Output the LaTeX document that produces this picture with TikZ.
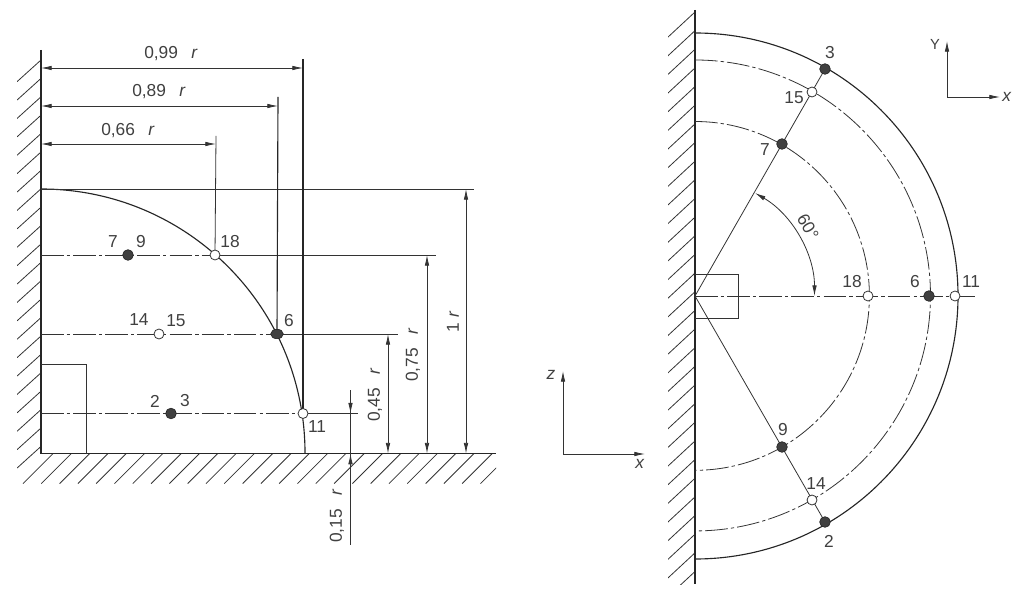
\documentclass[tikz,border=0pt]{standalone}
\usepackage{fontspec}
\setmainfont{Liberation Sans}
\usetikzlibrary{arrows.meta,shapes.geometric}
\definecolor{inkline}{gray}{0.2}

\begin{document}
\begin{tikzpicture}[x=0.75pt,y=-0.75pt,>={Latex[length=8pt,width=3.4pt]},
every node/.style={inner sep=0,text=black!75,font=\fontsize{13}{13}\selectfont},
thinline/.style={draw=inkline,line width=0.6pt},
heavyline/.style={draw=black!85,line width=0.85pt},
hatchline/.style={draw=inkline,line width=0.6pt},
centerline/.style={draw=inkline,line width=0.6pt,dash pattern=on 17pt off 2.3pt on 2.5pt off 2.3pt},
fullpt/.style={circle,fill=black!75,draw=black!85,line width=0.5pt,minimum size=8pt},
openpt/.style={circle,fill=white,draw=inkline,line width=0.6pt,minimum size=7.5pt}]

\useasboundingbox (0,0) rectangle (1024,602);

% left view
\coordinate (wallL1) at (41,50);
\coordinate (cornerL) at (41,453.6);
\coordinate (floorR) at (496,453.6);
\coordinate (p79) at (128,255);
\coordinate (p1415) at (159,334);
\coordinate (p23) at (171,413.5);
\coordinate (p18) at (215,255);
\coordinate (p6) at (277,334);
\coordinate (p11) at (303,413.5);
\coordinate (topL) at (41,189);

\begin{scope}
\clip (17,40) rectangle (41,480);
\foreach \yy in {0,...,21} {
    \draw[hatchline] (41,60+18.4*\yy) -- ++(-24,21.7);
}
\end{scope}
\begin{scope}
\clip (17,453.6) rectangle (496,483.5);
\foreach \xx in {0,...,26} {
    \draw[hatchline] (53+18.3*\xx,453.6) -- ++(-30,30);
}
\end{scope}

\draw[heavyline] (wallL1) -- (cornerL);
\draw[heavyline] (cornerL) -- (floorR);
\draw[thinline] (41,364) -- (86,364) -- (86,453.6);
\draw[heavyline] (topL) arc[start angle=90,end angle=0,radius=198pt];

\draw[thinline] (topL) -- (474,189);
\draw[centerline] (41,255) -- (p18);
\draw[thinline] (p18) -- (436,255);
\draw[centerline] (41,334) -- (p6);
\draw[thinline] (p6) -- (398,334);
\draw[centerline] (41,413.5) -- (p11);
\draw[thinline] (p11) -- (358,413.5);

\draw[heavyline] (303,59) -- (p11);
\draw[heavyline] (278,97) -- (p6);
\draw[thinline] (216,136) -- (p18);

\draw[thinline,<->] (41,68) -- (303,68);
\draw[thinline,<->] (41,106) -- (278,106);
\draw[thinline,<->] (41,144) -- (216,144);
\draw[thinline,<->] (466,189) -- (466,453.6);
\draw[thinline,<->] (427,255) -- (427,453.6);
\draw[thinline,<->] (388,334) -- (388,453.6);
\draw[thinline] (350.5,390) -- (350.5,545);
\draw[thinline,->] (350.5,396) -- (350.5,413.5);
\draw[thinline,->] (350.5,470) -- (350.5,453.6);

\node[fullpt] (d79) at (p79) {};
\node[openpt] (d1415) at (p1415) {};
\node[fullpt] (d23) at (p23) {};
\node[openpt] (d18) at (p18) {};
\node[ellipse,fill=black!75,draw=black!85,line width=0.5pt,minimum width=9.5pt,minimum height=7pt] (d6) at (p6) {};
\node[openpt] (d11) at (p11) {};

\node (t7) at (113,242) {7};
\node (t9) at (141,242) {9};
\node (t18) at (230,242) {18};
\node (t14) at (139,320) {14};
\node (t15) at (176,321) {15};
\node (t6) at (289,321) {6};
\node (t2) at (155,401) {2};
\node (t3) at (185,401) {3};
\node (t11) at (317,427) {11};

\node (dimA) at (171,54) {0,99\hspace{10pt}\textit{r}};
\node (dimB) at (159,92) {0,89\hspace{10pt}\textit{r}};
\node (dimC) at (128,131) {0,66\hspace{10pt}\textit{r}};
\node[rotate=90] (dimD) at (453,322) {1\hspace{4pt}\textit{r}};
\node[rotate=90] (dimE) at (413,355) {0,75\hspace{10pt}\textit{r}};
\node[rotate=90] (dimF) at (375,395) {0,45\hspace{10pt}\textit{r}};
\node[rotate=90] (dimG) at (337,516) {0,15\hspace{10pt}\textit{r}};

% z-x axes
\coordinate (axisA) at (563,454);
\coordinate (axisAz) at (563,371);
\coordinate (axisAx) at (645,454);
\draw[thinline,->] (axisA) -- (axisAz);
\draw[thinline,->] (axisA) -- (axisAx);
\node (tz) at (551,375) {\textit{z}};
\node (tx) at (640,464) {\textit{x}};

% right view
\coordinate (cen) at (695,296);
\coordinate (q3) at (825,69);
\coordinate (q15) at (812,92);
\coordinate (q7) at (782,144);
\coordinate (q9) at (782,447);
\coordinate (q14) at (812,500);
\coordinate (q2) at (825,522);
\coordinate (q18) at (868,296);
\coordinate (q6) at (929,296);
\coordinate (q11) at (955,296);

\begin{scope}
\clip (668,10) rectangle (695,584);
\foreach \yy in {0,...,30} {
    \draw[hatchline] (695,12+18.65*\yy) -- ++(-28,26);
}
\end{scope}

\draw[heavyline] (695,10) -- (695,584);
\draw[thinline] (695,274) -- (738,274) -- (738,318) -- (695,318);
\draw[heavyline] (695,33) arc[start angle=90,end angle=-90,radius=197.25pt];
\draw[centerline] (695,60) arc[start angle=90,end angle=-90,radius=176.6pt];
\draw[centerline] (695,121.5) arc[start angle=90,end angle=-90,radius=130.8pt];
\draw[centerline] (cen) -- (q11);
\draw[thinline] (q11) -- (975,296);
\draw[thinline] (cen) -- (q3);
\draw[thinline] (cen) -- (q2);
\draw[thinline,<->] (755,193) arc[start angle=60,end angle=0,radius=89.25pt];

\node[fullpt] (r3) at (q3) {};
\node[openpt] (r15) at (q15) {};
\node[fullpt] (r7) at (q7) {};
\node[fullpt] (r9) at (q9) {};
\node[openpt] (r14) at (q14) {};
\node[fullpt] (r2) at (q2) {};
\node[openpt] (r18) at (q18) {};
\node[fullpt] (r6) at (q6) {};
\node[openpt] (r11) at (q11) {};

\node (u3) at (830,53) {3};
\node (u15) at (794,98) {15};
\node (u7) at (765,150) {7};
\node (u18) at (852,282) {18};
\node (u6) at (915,282) {6};
\node (u11) at (971,282) {11};
\node (u9) at (783,430) {9};
\node (u14) at (816,484) {14};
\node (u2) at (829,541) {2};
\node[rotate=-60] (uangle) at (808,227) {60°};

% Y-x axes
\coordinate (axisB) at (947,97);
\coordinate (axisBy) at (947,41);
\coordinate (axisBx) at (1000,97);
\draw[thinline,->] (axisB) -- (axisBy);
\draw[thinline,->] (axisB) -- (axisBx);
\node[font=\fontsize{11}{11}\selectfont] (tY) at (935,44) {Y};
\node (tX) at (1007,97) {\textit{x}};

\end{tikzpicture}
\end{document}
